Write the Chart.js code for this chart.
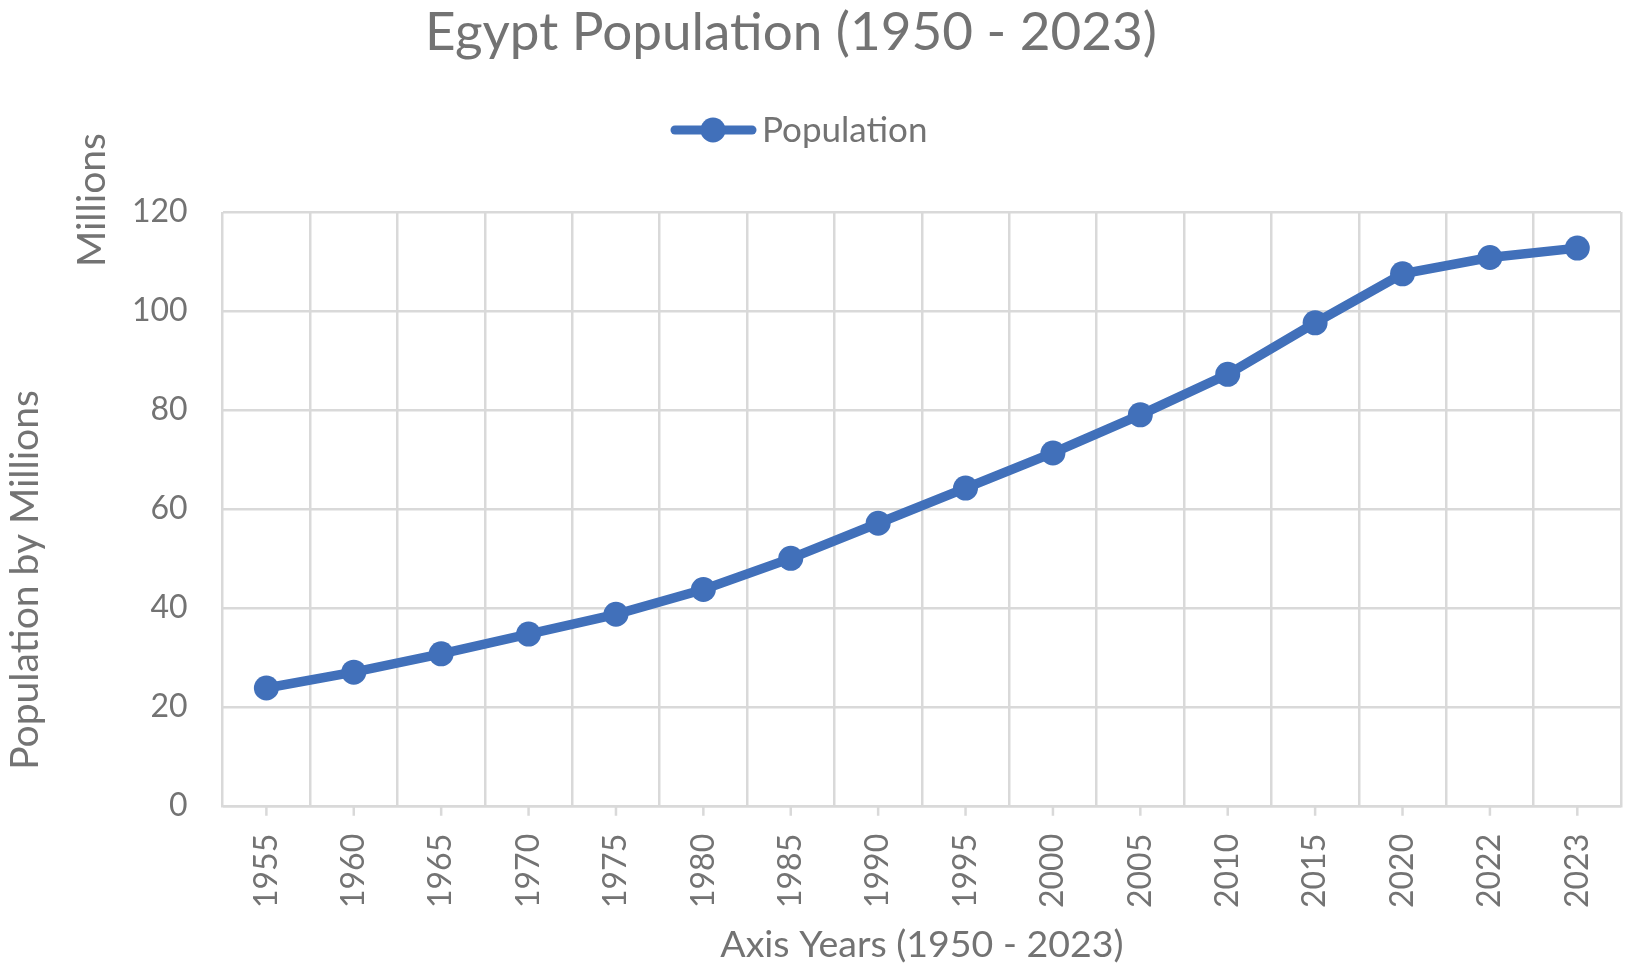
<!DOCTYPE html>
<html>
<head>
<meta charset="utf-8">
<script src="https://cdn.jsdelivr.net/npm/chart.js@4"></script>
<style>
  html, body { margin: 0; padding: 0; background: #fff; }
  #wrap { width: 1625px; height: 971px; }
</style>
</head>
<body>
<div id="wrap"><canvas id="lineChart"></canvas></div>
<script>
// data
const years = ['1955', '1960', '1965', '1970', '1975', '1980', '1985', '1990',
               '1995', '2000', '2005', '2010', '2015', '2020', '2022', '2023'];
const population = [23.8, 27.0, 30.7, 34.7, 38.7, 43.7, 50.0, 57.1,
                    64.2, 71.3, 79.0, 87.2, 97.6, 107.5, 110.8, 112.7];
const yMin = 0, yMax = 120, yStep = 20;

const chartTitle = 'Egypt Population (1950 - 2023)';
const xTitle = 'Axis Years (1950 - 2023)';
const yTitle = 'Population by Millions';
const unitLabel = 'Millions';

const FONT = 'Lato';
const TEXT = '#737373';
const GRID = '#d9d9d9';
const BLUE = '#4170ba';

// title, legend, rotated labels and x tick marks
const extras = {
    id: 'extras',
    beforeDatasetsDraw(chart) {
        const ctx = chart.ctx, x = chart.scales.x;
        ctx.save();
        ctx.strokeStyle = GRID;
        ctx.lineWidth = 2.5;
        for (let i = 0; i < years.length; i++) {
            const px = x.getPixelForValue(i);
            ctx.beginPath();
            ctx.moveTo(px, x.top);
            ctx.lineTo(px, x.top + 10);
            ctx.stroke();
        }
        ctx.restore();
    },
    afterDraw(chart) {
        const ctx = chart.ctx;
        ctx.save();
        ctx.fillStyle = TEXT;
        ctx.textBaseline = 'middle';

        ctx.font = '53px ' + FONT;
        ctx.textAlign = 'center';
        ctx.fillText(chartTitle, 791, 33);

        // legend
        const ds = chart.data.datasets[0];
        ctx.strokeStyle = BLUE;
        ctx.fillStyle = BLUE;
        ctx.lineWidth = 9;
        ctx.lineCap = 'round';
        ctx.beginPath();
        ctx.moveTo(675, 130);
        ctx.lineTo(752, 130);
        ctx.stroke();
        ctx.beginPath();
        ctx.arc(713, 130, 12.5, 0, Math.PI * 2);
        ctx.fill();
        ctx.fillStyle = TEXT;
        ctx.font = '35px ' + FONT;
        ctx.textAlign = 'left';
        ctx.fillText(ds.label, 762, 131);

        // rotated labels
        ctx.font = '39px ' + FONT;
        ctx.textAlign = 'center';
        ctx.translate(92, 200);
        ctx.rotate(-Math.PI / 2);
        ctx.fillText(unitLabel, 0, 0);
        ctx.setTransform(1, 0, 0, 1, 0, 0);
        ctx.scale(chart.currentDevicePixelRatio, chart.currentDevicePixelRatio);
        ctx.translate(25, 580);
        ctx.rotate(-Math.PI / 2);
        ctx.fillText(yTitle, 0, 0);
        ctx.restore();
    }
};

const ctx = document.getElementById('lineChart').getContext('2d');

new Chart(ctx, {
    type: 'line',
    data: {
        labels: years,
        datasets: [{
            label: 'Population',
            data: population,
            borderColor: BLUE,
            backgroundColor: BLUE,
            borderWidth: 9.5,
            pointRadius: 12.5,
            pointHoverRadius: 12.5,
            pointBackgroundColor: BLUE,
            pointBorderWidth: 0,
            tension: 0
        }]
    },
    options: {
        responsive: true,
        maintainAspectRatio: false,
        animation: false,
        layout: {
            autoPadding: false,
            padding: { top: 212, left: 97, right: 4, bottom: 4 }
        },
        plugins: {
            legend: { display: false },
            title: { display: false },
            tooltip: { enabled: false }
        },
        scales: {
            x: {
                offset: true,
                afterFit(scale) { scale.paddingLeft = 0; scale.paddingRight = 0; },
                grid: { offset: true, color: GRID, lineWidth: 2.5, drawTicks: false },
                border: { color: GRID, width: 2.5 },
                ticks: {
                    autoSkip: false,
                    minRotation: 90,
                    maxRotation: 90,
                    padding: 28,
                    color: TEXT,
                    font: { family: FONT, size: 32 }
                },
                title: {
                    display: true,
                    text: xTitle,
                    color: TEXT,
                    font: { family: FONT, size: 37.5 },
                    padding: { top: -14, bottom: 0 }
                }
            },
            y: {
                min: yMin,
                max: yMax,
                grid: { color: GRID, lineWidth: 2.5, drawTicks: false },
                border: { display: false },
                ticks: {
                    stepSize: yStep,
                    padding: 35,
                    color: TEXT,
                    font: { family: FONT, size: 32 }
                }
            }
        }
    },
    plugins: [extras]
});
</script>
</body>
</html>
